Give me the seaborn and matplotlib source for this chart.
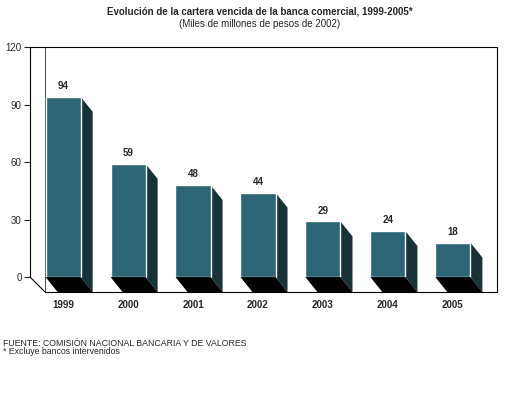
import matplotlib
matplotlib.use("Agg")
import matplotlib.pyplot as plt
import seaborn as sns
import pandas as pd
from matplotlib.patches import Polygon
from matplotlib.lines import Line2D

years = ["1999", "2000", "2001", "2002", "2003", "2004", "2005"]
values = [94, 59, 48, 44, 29, 24, 18]
yticks = [0, 30, 60, 90, 120]

sns.set_style("white")
plt.rcParams['font.family'] = ['Liberation Sans', 'DejaVu Sans']

fig = plt.figure(figsize=(5.2, 4), dpi=100)
ax = fig.add_axes([30/520, 108/400, 467/520, 245/400])
df = pd.DataFrame({"year": years, "v": values})
sns.barplot(data=df, x="year", y="v", color="#2b6576", saturation=1, width=0.54, ax=ax, zorder=3)
ax.set_xlim(-0.51, 6.68)
ax.set_ylim(-7.8, 120)

dx, dy = 0.185, -7.8
for p, v in zip(ax.patches, values):
    x0 = p.get_x(); w = p.get_width(); x1 = x0 + w
    ax.add_patch(Polygon([(x1, v), (x1 + dx, v + dy), (x1 + dx, dy), (x1, 0)],
                         closed=True, fc="#173338", ec="none", zorder=2))
    ax.add_patch(Polygon([(x0, 0), (x1, 0), (x1 + dx, dy), (x0 + dx, dy)],
                         closed=True, fc="black", ec="none", zorder=4))
    ax.text(x0 + w/2, v + 3, f"{v}", ha="center", va="bottom", fontsize=7, fontweight="bold")

for s in ax.spines.values():
    s.set_visible(False)
ax.set_xlabel(""); ax.set_ylabel("")
ax.set_yticks(yticks)
ax.set_yticklabels([str(t) for t in yticks], fontsize=7)
ax.tick_params(axis="y", length=4, width=0.8, direction="out", left=True, pad=2)
ax.set_xticks(range(len(years)))
ax.set_xticklabels(years, fontsize=7, fontweight="bold")
for lbl in ax.get_xticklabels():
    lbl.set_transform(lbl.get_transform() + matplotlib.transforms.ScaledTranslation(0.19, -0.02, fig.dpi_scale_trans))
ax.tick_params(axis="x", length=0, pad=6)

t = ax.transAxes
fx = 15/467
fy = 15/245
lines = [([0, 0], [fy, 1]), ([0, 1], [1, 1]), ([1, 1], [0, 1]), ([fx, 1], [0, 0]), ([0, fx], [fy, 0])]
for xs, ys in lines:
    ax.add_line(Line2D(xs, ys, transform=t, color="black", lw=0.8, clip_on=False, zorder=1))
ax.add_line(Line2D([fx, fx], [0, 1], transform=t, color="black", lw=0.5, clip_on=False, zorder=1))

fig.text(0.5, 1 - 12/400, "Evolución de la cartera vencida de la banca comercial, 1999-2005*",
         ha="center", va="center", fontsize=7, fontweight="bold")
fig.text(0.5, 1 - 24/400, "(Miles de millones de pesos de 2002)", ha="center", va="center", fontsize=7)
fig.text(3/520, 1 - 343/400, "FUENTE: COMISIÓN NACIONAL BANCARIA Y DE VALORES", ha="left", va="center", fontsize=6.3)
fig.text(3/520, 1 - 352/400, "* Excluye bancos intervenidos", ha="left", va="center", fontsize=6.3)

fig.savefig("out.png", dpi=100)
